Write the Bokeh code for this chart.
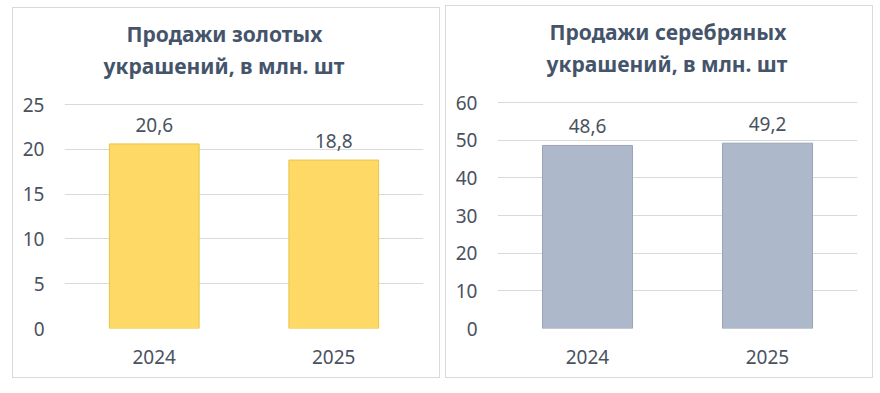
from bokeh.plotting import figure
from bokeh.layouts import row
from bokeh.models import ColumnDataSource, Range1d, FixedTicker, LabelSet, Title
from bokeh.core.properties import value
from bokeh.embed import file_html
from bokeh.resources import INLINE

years = ["2024", "2025"]
gold_values = [20.6, 18.8]
silver_values = [48.6, 49.2]
gold_ticks = [0, 5, 10, 15, 20, 25]
silver_ticks = [0, 10, 20, 30, 40, 50, 60]
gold_title = ["Продажи золотых", "украшений, в млн. шт"]
silver_title = ["Продажи серебряных", "украшений, в млн. шт"]

FONT = "Noto Sans"
TITLE_COLOR = "#44546A"
TEXT_COLOR = "#4a5261"
GRID_COLOR = "#d9d9d9"


def make_panel(values, ticks, title_lines, fill, edge, height, b_right,
               title_offsets, title_standoffs):
    src = ColumnDataSource(dict(
        x=years, top=values,
        label=[f"{v:.1f}".replace(".", ",") for v in values],
    ))
    p = figure(x_range=years, y_range=Range1d(ticks[0], ticks[-1] * 1.0045),
               width=428, height=height, output_backend="svg", toolbar_location=None,
               min_border_left=51, min_border_right=b_right,
               min_border_top=95, min_border_bottom=51)
    p.vbar(x="x", top="top", width=0.5, source=src, fill_color=fill,
           line_color=edge, line_width=1)
    p.add_layout(LabelSet(x="x", y="top", text="label", source=src,
                          text_align="center", text_baseline="bottom", y_offset=12,
                          text_font=value(FONT), text_font_size="19px",
                          text_color=TEXT_COLOR))
    p.outline_line_color = None
    p.xgrid.grid_line_color = None
    p.ygrid.grid_line_color = GRID_COLOR
    p.ygrid.ticker = FixedTicker(ticks=ticks)
    p.yaxis.ticker = FixedTicker(ticks=ticks)
    for ax in (p.xaxis[0], p.yaxis[0]):
        ax.axis_line_color = None
        ax.major_tick_line_color = None
        ax.minor_tick_line_color = None
        ax.major_tick_out = 0
        ax.major_tick_in = 0
        ax.major_label_text_font = FONT
        ax.major_label_text_font_size = "19px"
        ax.major_label_text_color = TEXT_COLOR
    p.yaxis.major_label_standoff = 20
    p.xaxis.major_label_standoff = 21
    # inner line (closest to the plot) first, outer line second
    for i in (1, 0):
        p.add_layout(Title(text=title_lines[i], align="left", offset=title_offsets[i],
                           standoff=title_standoffs[i],
                           text_font=FONT, text_font_size="21px", text_font_style="bold",
                           text_color=TITLE_COLOR), "above")
    p.styles = {"border": "1px solid #d9d9d9"}
    return p


p1 = make_panel(gold_values, gold_ticks, gold_title, "#FFD966", "#E9C445",
                371, 18, (62, 39), (-44.8, 47.6))
p2 = make_panel(silver_values, silver_ticks, silver_title, "#ADB9CA", "#9aa5b6",
                373, 17, (52, 49), (-44.8, 47.6))
p1.margin = (7, 0, 0, 12)
p2.margin = (5, 0, 0, 0)
layout = row(p1, p2, spacing=5)

open("out.html", "w").write(file_html(layout, INLINE))
